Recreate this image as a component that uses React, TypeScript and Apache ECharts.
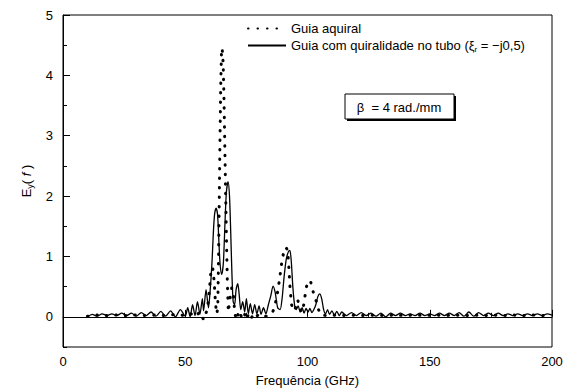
import React, { useEffect, useRef } from "react";
import * as echarts from "echarts";

// Solid: "Guia com quiralidade no tubo" [GHz, Ey]
const solidSeries: [number, number][] = [
  [10, 0.0], [12, 0.04], [14, 0.01], [16, 0.05], [18, 0.02], [20, 0.05], [22, 0.02], [24, 0.06],
  [26, 0.02], [28, 0.06], [30, 0.01], [32, 0.07], [34, 0.02], [36, 0.08], [38, 0.01], [40, 0.09],
  [42, 0.01], [44, 0.1], [46, 0.0], [48, 0.12], [50, 0.01], [51, 0.15], [52, 0.0], [53, 0.2],
  [54, 0.02], [55, 0.25], [56, 0.04], [57, 0.3], [57.5, 0.1], [58.5, 0.45], [59.5, 0.15], [60.3, 0.5],
  [61, 0.95], [61.5, 1.4], [62, 1.7], [62.6, 1.8], [63.2, 1.7], [63.7, 1.3], [64.2, 0.9], [64.9, 0.7],
  [65.6, 0.9], [66.2, 1.5], [66.8, 2.05], [67.5, 2.24], [68.1, 2.0], [68.6, 1.4], [69.1, 0.7], [69.6, 0.25],
  [70.2, 0.2], [70.8, 0.45], [71.5, 0.55], [72.1, 0.35], [72.7, 0.12], [73.5, 0.25], [74.3, 0.08], [75, 0.3],
  [75.8, 0.05], [76.6, 0.22], [77.5, 0.05], [78.4, 0.2], [79.3, 0.05], [80.2, 0.18], [81, 0.04], [82, 0.15],
  [83, 0.05], [84, 0.2], [85, 0.35], [85.9, 0.51], [86.8, 0.4], [87.8, 0.15], [88.8, 0.12], [89.6, 0.3],
  [90.4, 0.65], [91.3, 0.95], [92.2, 1.08], [92.8, 1.1], [93.4, 0.9], [94, 0.5], [94.7, 0.2], [95.4, 0.12],
  [96.2, 0.18], [97, 0.08], [97.8, 0.15], [98.6, 0.06], [99.4, 0.14], [100.2, 0.08], [101, 0.14], [101.8, 0.07],
  [102.6, 0.12], [103.4, 0.2], [104.2, 0.33], [105, 0.38], [105.8, 0.3], [106.6, 0.12], [107.4, 0.05], [108.2, 0.12],
  [109, 0.04], [110, 0.1], [111, 0.03], [112, 0.09], [113, 0.02], [114, 0.08], [116, 0.02], [118, 0.07],
  [120, 0.02], [122, 0.07], [124, 0.02], [126, 0.06], [128, 0.01], [130, 0.06], [132, 0.0], [134, 0.06],
  [136, 0.02], [138, 0.06], [140, 0.02], [142, 0.05], [144, 0.02], [146, 0.06], [148, 0.02], [150, 0.05],
  [152, 0.02], [154, 0.06], [156, 0.02], [158, 0.06], [160, 0.02], [162, 0.07], [164, 0.01], [166, 0.08],
  [168, 0.01], [170, 0.07], [172, 0.02], [174, 0.06], [176, 0.02], [178, 0.06], [180, 0.02], [182, 0.05],
  [184, 0.02], [186, 0.05], [188, 0.02], [190, 0.05], [192, 0.02], [194, 0.05], [196, 0.02], [198, 0.05],
  [200, 0.03],
];

// Dotted: "Guia aquiral" [GHz, Ey]
const dottedSeries: [number, number][] = [
  [10, 0.01], [14, 0.03], [18, 0.02], [22, 0.03], [26, 0.02], [30, 0.03], [34, 0.02], [38, 0.03],
  [42, 0.02], [46, 0.04], [50, 0.02], [52, 0.06], [54, 0.0], [56, 0.08], [57.5, -0.05], [59, 0.12],
  [59.8, 0.4], [60.5, 0.75], [61.2, 0.82], [61.8, 0.6], [62.4, 0.2], [62.9, 0.05], [63.3, 0.15], [63.6, 0.9],
  [63.9, 1.9], [64.2, 2.9], [64.5, 3.8], [64.8, 4.35], [65.1, 4.45], [65.5, 4.2], [65.8, 3.7], [66.1, 3.0],
  [66.4, 2.3], [66.8, 1.4], [67.2, 0.6], [67.6, 0.08], [68.3, 0.3], [69, 0.48], [69.7, 0.35], [70.3, 0.05],
  [71, -0.05], [72, 0.1], [73, 0.0], [74, 0.08], [75, -0.05], [76, 0.06], [77, -0.02], [78, 0.05],
  [79, 0.0], [80, 0.04], [82, 0.0], [84, 0.02], [85.5, 0.06], [86.5, 0.15], [87.5, 0.35], [88.5, 0.6],
  [89.4, 0.88], [90.3, 1.08], [91.2, 1.15], [91.9, 1.1], [92.4, 0.8], [92.9, 0.45], [93.5, 0.2], [94.2, 0.1],
  [95, 0.14], [96, 0.28], [97, 0.12], [98, 0.08], [98.8, 0.3], [99.6, 0.5], [100.4, 0.6], [101.3, 0.58],
  [102.1, 0.45], [102.9, 0.32], [103.7, 0.25], [104.5, 0.12], [105.5, 0.03], [108, 0.02], [112, 0.03], [116, 0.02],
  [120, 0.03], [124, 0.02], [128, 0.03], [132, 0.02], [136, 0.03], [140, 0.02], [144, 0.03], [148, 0.02],
  [152, 0.03], [156, 0.02], [160, 0.03], [164, 0.02], [168, 0.03], [172, 0.02], [176, 0.03], [180, 0.02],
  [184, 0.03], [188, 0.02], [192, 0.03], [196, 0.02], [200, 0.03],
];

const yMajorTicks = [0, 1, 2, 3, 4, 5];
const seriesNames = ["Guia aquiral", "Guia com quiralidade no tubo"];
const xTitle = "Frequência (GHz)";
const betaLabel = "β  = 4 rad./mm";

const FONT = "'Liberation Sans', Arial, sans-serif";

export default function App() {
  const ref = useRef<HTMLDivElement>(null);
  useEffect(() => {
    if (!ref.current) return;
    const chart = echarts.init(ref.current, undefined, { renderer: "svg" });
    const axisCommon = {
      axisLine: { show: true, lineStyle: { color: "#000", width: 1 } },
      splitLine: { show: false },
    };
    chart.setOption({
      animation: false,
      textStyle: { fontFamily: FONT, color: "#000" },
      grid: {
        left: 63, right: 25, top: 15, bottom: 44,
        show: true, borderColor: "#000", borderWidth: 1, backgroundColor: "transparent",
      },
      legend: {
        orient: "vertical",
        left: 247,
        top: 22,
        itemWidth: 38,
        itemHeight: 12,
        itemGap: 4,
        padding: 0,
        data: seriesNames,
        itemStyle: { opacity: 0 },
        textStyle: {
          fontFamily: FONT, fontSize: 13, color: "#000",
          rich: {
            a: { fontFamily: FONT, fontSize: 13, color: "#000" },
            s: { fontFamily: FONT, fontSize: 8, color: "#000", padding: [7, 0, 0, 0] },
          },
        },
        formatter: (name: string) =>
          name === seriesNames[1]
            ? "{a|" + name + " (ξ}{s|r}{a| = −j0,5)}"
            : "{a|" + name + "}",
      },
      xAxis: {
        type: "value",
        min: 0,
        max: 200,
        interval: 50,
        ...axisCommon,
        axisTick: { show: true, inside: true, length: 7, lineStyle: { color: "#000" } },
        minorTick: { show: true, splitNumber: 2, length: 4, lineStyle: { color: "#000" } },
        axisLabel: { fontFamily: FONT, fontSize: 13, color: "#000", margin: 8 },
        name: xTitle,
        nameLocation: "middle",
        nameGap: 27,
        nameTextStyle: { fontFamily: FONT, fontSize: 13, color: "#000" },
      },
      yAxis: [
        {
          type: "value",
          min: -0.5,
          max: 5,
          interval: 0.5,
          ...axisCommon,
          axisTick: { show: true, inside: true, length: 4, lineStyle: { color: "#000" } },
          axisLabel: {
            fontFamily: FONT, fontSize: 13, color: "#000", margin: 10,
            customValues: yMajorTicks,
          },
          name: "{a|E}{s|y}{a|( }{i|f}{a| )}",
          nameLocation: "middle",
          nameRotate: 90,
          nameGap: 26,
          nameTextStyle: {
            fontFamily: FONT, fontSize: 13, color: "#000",
            rich: {
              a: { fontFamily: FONT, fontSize: 13, color: "#000" },
              s: { fontFamily: FONT, fontSize: 9, color: "#000", padding: [7, 0, 0, 0] },
              i: { fontFamily: FONT, fontSize: 13, fontStyle: "italic", color: "#000" },
            },
          },
        },
        {
          type: "value",
          min: -0.5,
          max: 5,
          position: "left",
          axisLine: { show: false },
          splitLine: { show: false },
          axisLabel: { show: false },
          axisTick: {
            show: true, inside: true, length: 7, lineStyle: { color: "#000" },
            customValues: yMajorTicks,
          },
        },
      ],
      series: [
        {
          name: seriesNames[0],
          type: "line",
          data: dottedSeries,
          showSymbol: false,
          symbol: "none",
          lineStyle: { color: "#000", width: 3, type: [0.5, 9], cap: "round" },
          itemStyle: { color: "#000" },
          z: 3,
        },
        {
          name: seriesNames[1],
          type: "line",
          data: solidSeries,
          showSymbol: false,
          symbol: "none",
          smooth: 0.25,
          lineStyle: { color: "#000", width: 1.3 },
          itemStyle: { color: "#000" },
          z: 2,
        },
      ],
      graphic: [
        {
          type: "rect",
          shape: { x: 347, y: 96, width: 109, height: 25 },
          style: { fill: "#000" },
          z: 10,
        },
        {
          type: "rect",
          shape: { x: 345, y: 94, width: 109, height: 25 },
          style: { fill: "#fff", stroke: "#000", lineWidth: 1 },
          z: 11,
        },
        {
          type: "text",
          x: 399,
          y: 107,
          style: {
            text: betaLabel,
            fontFamily: FONT,
            fontSize: 13,
            fill: "#000",
            align: "center",
            verticalAlign: "middle",
          },
          z: 12,
        },
      ],
    });
    return () => chart.dispose();
  }, []);
  return (
    <div
      ref={ref}
      style={{ position: "absolute", left: 0, top: 0, width: 577, height: 392, background: "#fff" }}
    />
  );
}
